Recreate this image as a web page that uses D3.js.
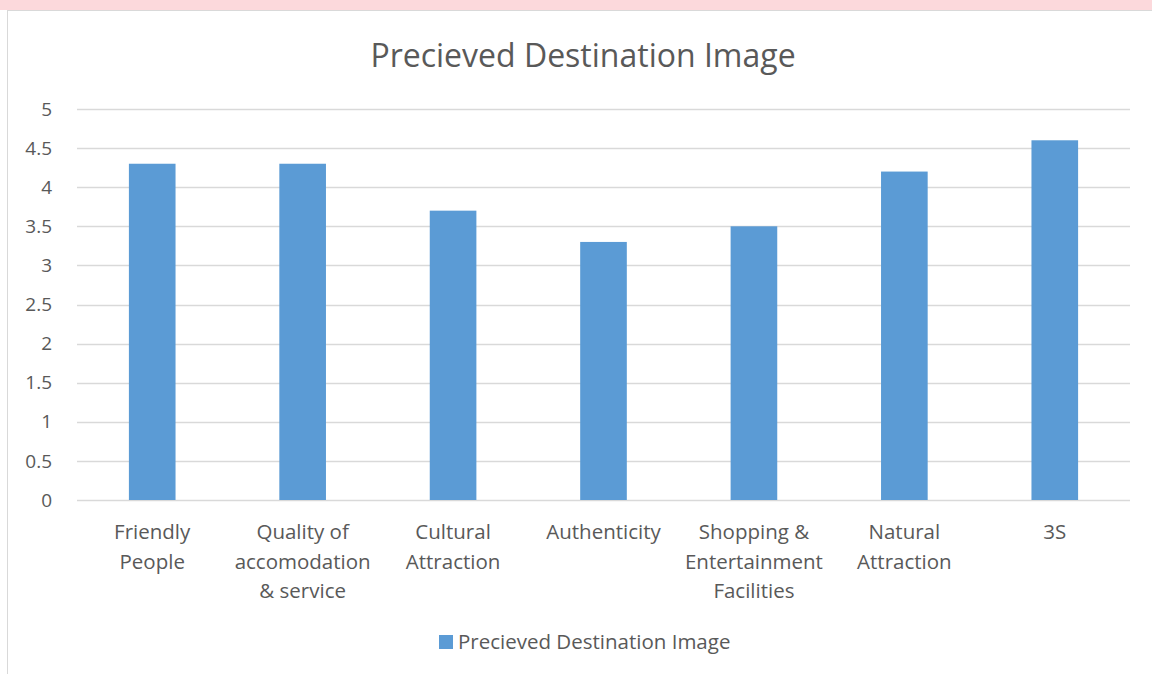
<!DOCTYPE html>
<html>
<head>
<meta charset="utf-8">
<script src="https://cdn.jsdelivr.net/npm/d3@7"></script>
<style>
  body { margin: 0; background: #fff; }
  svg text { font-family: "Open Sans", sans-serif; fill: #595959; }
</style>
</head>
<body>
<div id="chart"></div>
<script>
var categories = [
  ["Friendly", "People"],
  ["Quality of", "accomodation", "& service"],
  ["Cultural", "Attraction"],
  ["Authenticity"],
  ["Shopping &", "Entertainment", "Facilities"],
  ["Natural", "Attraction"],
  ["3S"]
];
var values = [4.3, 4.3, 3.7, 3.3, 3.5, 4.2, 4.6];
var yTicks = [0, 0.5, 1, 1.5, 2, 2.5, 3, 3.5, 4, 4.5, 5];
var seriesName = "Precieved Destination Image";
var chartTitle = "Precieved Destination Image";

var W = 1152, H = 674;
var plot_left = 77, plot_right = 1130, plot_top = 109, plot_bottom = 500;
var bar_ratio = 0.31;

var svg = d3.select("#chart").append("svg")
  .attr("width", W)
  .attr("height", H);

// faded strip at top (watermark remnants in the source)
svg.append("rect")
  .attr("x", 0).attr("y", 0)
  .attr("width", W).attr("height", 10)
  .style("fill", "#fcd9dc");

// chart border
svg.append("rect")
  .attr("x", 7.5).attr("y", 10.5)
  .attr("width", W + 10).attr("height", H)
  .style("fill", "#fff")
  .style("stroke", "#d9d9d9")
  .style("stroke-width", 1);

var x = d3.scaleBand()
  .domain(d3.range(categories.length))
  .range([plot_left, plot_right])
  .padding(0);

var y = d3.scaleLinear()
  .domain([0, 5])
  .range([plot_bottom, plot_top]);

// gridlines
svg.append("g")
  .selectAll("line")
  .data(yTicks)
  .enter()
  .append("line")
  .attr("x1", plot_left)
  .attr("x2", plot_right)
  .attr("y1", function(d){ return Math.round(y(d)) + 0.5; })
  .attr("y2", function(d){ return Math.round(y(d)) + 0.5; })
  .style("stroke", "#d9d9d9")
  .style("stroke-width", 1.3);

// y labels
svg.append("g")
  .selectAll("text")
  .data(yTicks)
  .enter()
  .append("text")
  .attr("x", 52)
  .attr("y", function(d){ return y(d); })
  .attr("dy", "0.35em")
  .attr("text-anchor", "end")
  .style("font-size", "19px")
  .text(function(d){ return d; });

// bars
var barW = x.bandwidth() * bar_ratio;
svg.append("g")
  .selectAll("rect")
  .data(values)
  .enter()
  .append("rect")
  .attr("x", function(d, i){ return x(i) + (x.bandwidth() - barW) / 2; })
  .attr("y", function(d){ return y(d); })
  .attr("width", barW)
  .attr("height", function(d){ return y(0) - y(d); })
  .style("fill", "#5b9bd5");

// category labels
var catLabels = svg.append("g")
  .selectAll("text")
  .data(categories)
  .enter()
  .append("text")
  .attr("text-anchor", "middle")
  .style("font-size", "20.5px");

catLabels.selectAll("tspan")
  .data(function(d, i){ return d.map(function(line){ return {line: line, i: i}; }); })
  .enter()
  .append("tspan")
  .attr("x", function(d){ return x(d.i) + x.bandwidth() / 2; })
  .attr("y", function(d, j){ return 539 + j * 29.5; })
  .text(function(d){ return d.line; });

// title
svg.append("text")
  .attr("x", 583)
  .attr("y", 67)
  .attr("text-anchor", "middle")
  .style("font-size", "32px")
  .text(chartTitle);

// legend
svg.append("rect")
  .attr("x", 439).attr("y", 635)
  .attr("width", 14).attr("height", 14)
  .style("fill", "#5b9bd5");
svg.append("text")
  .attr("x", 458)
  .attr("y", 642)
  .attr("dy", "0.35em")
  .style("font-size", "20.5px")
  .text(seriesName);
</script>
</body>
</html>
